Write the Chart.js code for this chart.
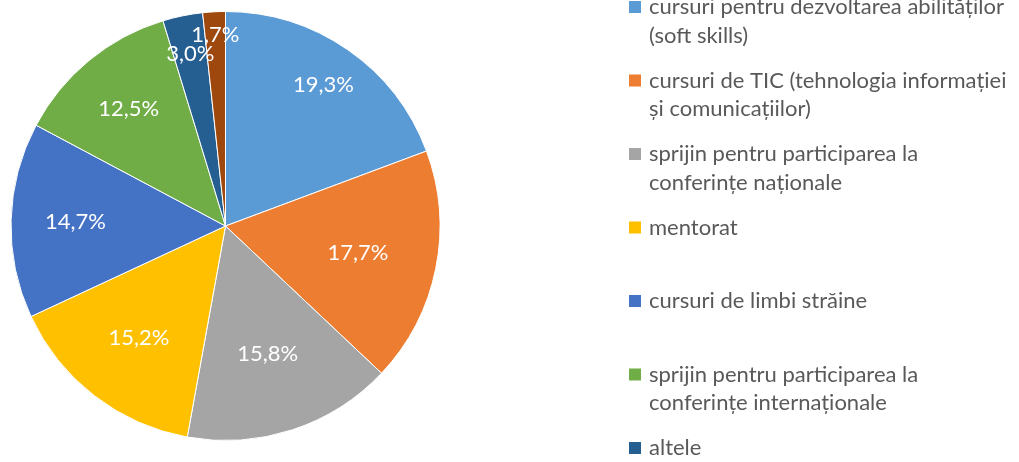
<!DOCTYPE html>
<html>
<head>
<meta charset="utf-8">
<script src="https://cdn.jsdelivr.net/npm/chart.js@4/dist/chart.umd.min.js"></script>
<style>
  html, body { margin: 0; padding: 0; background: #fff; }
  #pie { display: block; }
</style>
</head>
<body>
<canvas id="pie" width="1019" height="462"></canvas>
<script>
// "\n" marks where the legend breaks the name, as in the original
var categories = [
	"cursuri pentru dezvoltarea abilităților\n(soft skills)",
	"cursuri de TIC (tehnologia informației\nși comunicațiilor)",
	"sprijin pentru participarea la\nconferințe naționale",
	"mentorat",
	"cursuri de limbi străine",
	"sprijin pentru participarea la\nconferințe internaționale",
	"altele",
	"nu este cazul"
];

var values = [19.3, 17.7, 15.8, 15.2, 14.7, 12.5, 3.0, 1.7];

var colors = ["#5B9BD5", "#ED7D31", "#A5A5A5", "#FFC000", "#4472C4", "#70AD47", "#255E91", "#9E480E"];

var fonts = "Lato, 'Open Sans', sans-serif";

// how far out (fraction of radius) each percent label sits, like excel's best fit
var labelRadius = [0.80, 0.63, 0.63, 0.66, 0.70, 0.71, 0.82, 0.89];

var pctLabels = {
	id: "pctLabels",
	afterDatasetsDraw: function(chart) {
		var ctx = chart.ctx
		  , meta = chart.getDatasetMeta(0)
		;
		ctx.save();
		ctx.font = "22px " + fonts;
		ctx.fillStyle = "#fff";
		ctx.textAlign = "center";
		ctx.textBaseline = "middle";
		meta.data.forEach(function(arc, i) {
			var mid = (arc.startAngle + arc.endAngle) / 2
			  , r = arc.outerRadius * labelRadius[i]
			  , txt = values[i].toFixed(1).replace(".", ",") + "%"
			;
			ctx.fillText(txt, arc.x + Math.cos(mid) * r, arc.y + Math.sin(mid) * r);
		});
		ctx.restore();
	}
};

var sideLegend = {
	id: "sideLegend",
	afterDraw: function(chart) {
		var ctx = chart.ctx
		  , x = 629, y0 = 7, step = 73.5, box = 12, lineH = 28.5
		;
		ctx.save();
		ctx.font = "22px " + fonts;
		ctx.textBaseline = "middle";
		ctx.textAlign = "left";
		chart.data.labels.forEach(function(name, i) {
			var y = y0 + i * step;
			ctx.fillStyle = colors[i];
			ctx.fillRect(x, y - box / 2, box, box);
			ctx.fillStyle = "#595959";
			name.split("\n").forEach(function(line, j) {
				ctx.fillText(line, x + 20, y + j * lineH);
			});
		});
		ctx.restore();
	}
};

var ctx = document.getElementById("pie").getContext("2d");
var pie_chart = new Chart(ctx, {
	type: "pie",
	data: {
		labels: categories,
		datasets: [{
			data: values,
			backgroundColor: colors,
			borderColor: "#fff",
			borderWidth: 1
		}]
	},
	options: {
		responsive: false,
		devicePixelRatio: 1,
		animation: false,
		layout: { padding: { left: 10.5, top: 11, right: 578.5, bottom: 21 } },
		plugins: {
			legend: { display: false },
			tooltip: { enabled: false }
		}
	},
	plugins: [pctLabels, sideLegend]
});
</script>
</body>
</html>
